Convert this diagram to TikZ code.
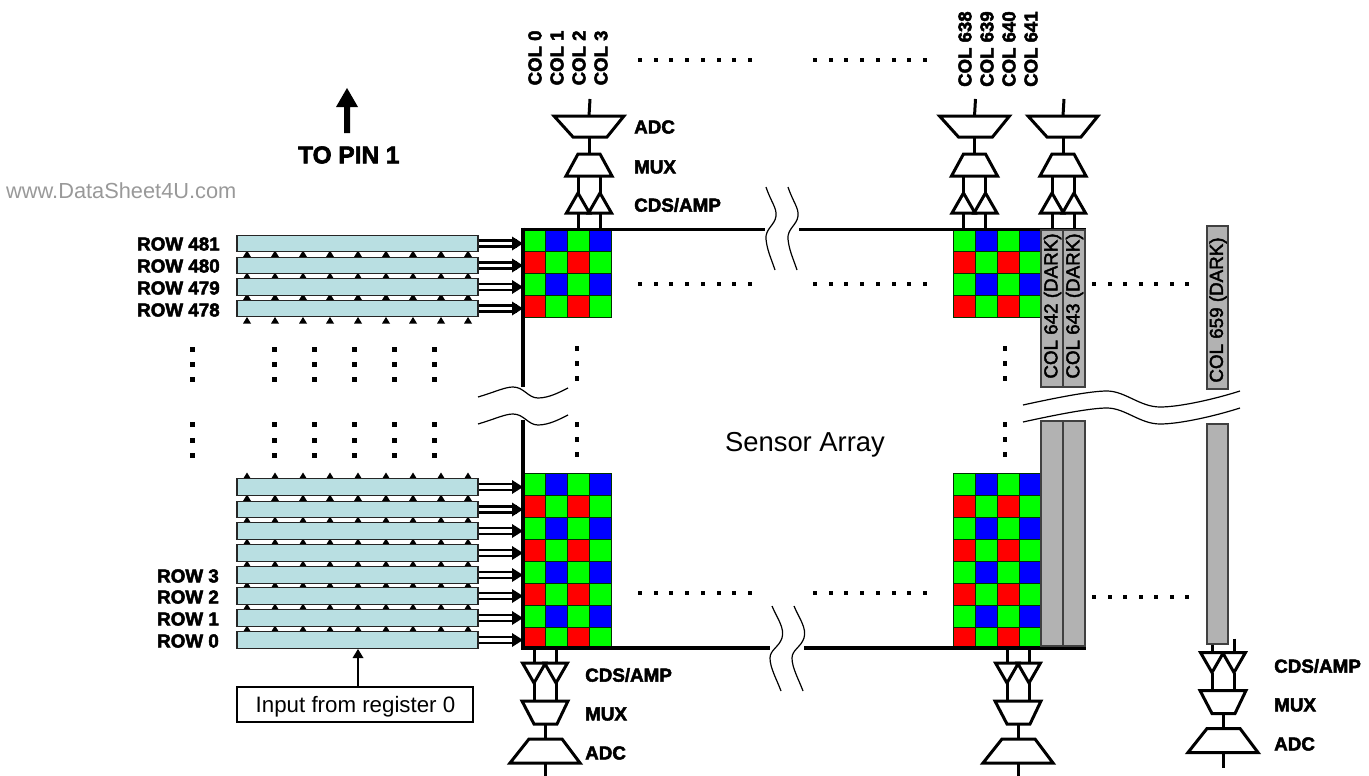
\documentclass[tikz,border=0pt]{standalone}
\usepackage{fontspec}
\setmainfont{Liberation Sans}
\newfontfamily\lb{Liberation Sans Bold}[FakeBold=2.6]
\newfontfamily\lr{Liberation Sans}[FakeBold=2.2]
\tikzset{
  lab/.style={font=\lb\fontsize{18.8}{20}\selectfont,inner sep=0pt,anchor=west,text=black},
  collab/.style={font=\lb\fontsize{18.6}{20}\selectfont,inner sep=0pt,rotate=90,anchor=west},
  darklab/.style={font=\lr\fontsize{18.8}{20}\selectfont,inner sep=0pt,rotate=90,anchor=center},
  cell/.style={draw=black!80!green,line width=1pt},
  bar/.style={draw=black!85,line width=1.4pt,fill=barcol,minimum width=241pt,minimum height=16.5pt,inner sep=0pt},
  darkcol/.style={draw=black!75,line width=1.3pt,fill=darkgrey},
  thick line/.style={line width=3.6pt,black},
  conv/.style={draw=black,line width=3pt,fill=white,line join=miter},
  stem/.style={line width=3pt,black},
  brk/.style={line width=1.2pt,black},
  dotmark/.style={fill=black}
}
\definecolor{barcol}{HTML}{B9DFE2}
\definecolor{darkgrey}{HTML}{B2B2B2}
\newcommand{\gridcells}[3]{% x, y, rows
  \foreach \r in {1,...,#3}{
    \foreach \c in {0,1,2,3}{
      \pgfmathtruncatemacro{\parity}{mod(\r+\c,2)}
      \pgfmathtruncatemacro{\rowodd}{mod(\r,2)}
      \ifnum\rowodd=1
        \ifnum\parity=1 \def\colr{green}\else\def\colr{blue}\fi
      \else
        \ifnum\parity=0 \def\colr{red}\else\def\colr{green}\fi
      \fi
      \filldraw[cell,fill=\colr] ({#1+22*\c},{#2+22*(\r-1)}) rectangle ++(22,22);
    }
  }
}
\newcommand{\upstack}[1]{%
  \begin{scope}[shift={(#1,0)}]
    \draw[stem] (-11,229) -- (-11,211);
    \draw[stem] (11,229) -- (11,211);
    \draw[stem] (-11,193) -- (-11,175);
    \draw[stem] (11,193) -- (11,175);
    \draw[conv] (-22.5,213) -- (-11,193) -- (0.5,213) -- cycle;
    \draw[conv] (-0.5,213) -- (11,193) -- (22.5,213) -- cycle;
    \draw[conv] (-23,176) -- (-11,154) -- (11,154) -- (23,176) -- cycle;
    \draw[stem] (0,137) -- (0,154);
    \draw[conv] (-35,116) -- (35,116) -- (18,137) -- (-16,137) -- cycle;
    \draw[stem] (1,99) -- (0,116);
  \end{scope}
}
\newcommand{\downstack}[2]{%
  \begin{scope}[shift={(#1,#2)}]
    \draw[stem] (-11,649) -- (-11,665);
    \draw[stem] (11,649) -- (11,665);
    \draw[stem] (-11,683) -- (-11,701);
    \draw[stem] (11,683) -- (11,701);
    \draw[conv] (-22.5,663) -- (-11,683) -- (0.5,663) -- cycle;
    \draw[conv] (-0.5,663) -- (11,683) -- (22.5,663) -- cycle;
    \draw[conv] (-23,701) -- (23,701) -- (12,724) -- (-11,724) -- cycle;
    \draw[stem] (0,724) -- (0,739);
    \draw[conv] (-16,739) -- (17,739) -- (35,763) -- (-35,763) -- cycle;
    \draw[stem] (0,763) -- (0,778);
  \end{scope}
}
\begin{document}
\begin{tikzpicture}[x=1pt,y=-1pt]
\useasboundingbox (0,0) rectangle (1369,776);
\clip (0,0) rectangle (1369,776);

% small up-pointing triangles behind the row bars
\foreach \by in {323.5,300,279,257,479,501,523,545,567,588,610,632}{
  \foreach \tx in {247,275,303,330,358,386,413,441,468}{
    \fill (\tx-4,\by) -- (\tx,\by-6.5) -- (\tx+4,\by) -- cycle;
  }
}

% colour grids
\gridcells{523}{229}{4}
\gridcells{523}{473}{8}
\gridcells{953}{229}{4}
\gridcells{953}{473}{8}

% row bars with double arrows
\foreach \nm/\cy in {a/243.5,b/265.5,c/287,d/308.5,e/487,f/509.5,g/531,h/553,i/575,j/596,k/618,l/640}{
  \node[bar] (bar\nm) at (357.5,\cy) {};
  \coordinate (tip\nm) at (523,\cy);
  \draw[line width=2.2pt] ([yshift=3pt]bar\nm.east) -- ++(38,0);
  \draw[line width=2.2pt] ([yshift=-3pt]bar\nm.east) -- ++(38,0);
  \fill (tip\nm) -- ++(-11,-7) -- ++(0,14) -- cycle;
}

% frame
\draw[thick line] (523,227.5) -- (523,387);
\draw[thick line] (523,420) -- (523,649.5);
\draw[line width=3pt] (521,229) -- (765,229);
\draw[line width=3pt] (799,229) -- (1085.5,229);
\draw[thick line] (521,648) -- (770,648);
\draw[thick line] (804,648) -- (1086,648);

% converter stacks
\upstack{589}
\upstack{974.5}
\upstack{1063}
\downstack{545}{0}
\downstack{1018}{0}
\downstack{1223}{-10.5}

% dark columns
\filldraw[darkcol] (1041,230) rectangle (1063,387);
\filldraw[darkcol] (1063,230) rectangle (1085,387);
\filldraw[darkcol] (1041,421) rectangle (1063,646);
\filldraw[darkcol] (1063,421) rectangle (1085,646);
\filldraw[darkcol] (1207,226) rectangle (1228,389);
\filldraw[darkcol] (1207,424) rectangle (1228,644);
\node[darklab] (d642) at (1052.5,306) {COL 642 (DARK)};
\node[darklab] (d643) at (1074.5,306) {COL 643 (DARK)};
\node[darklab] (d659) at (1218,310) {COL 659 (DARK)};

% break curves
\foreach \dx in {0,22}{
  \draw[brk] (766+\dx,187) .. controls (771+\dx,202) and (777+\dx,208) .. (776+\dx,216)
     .. controls (775+\dx,225) and (765+\dx,229) .. (766+\dx,239)
     .. controls (767+\dx,250) and (771+\dx,258) .. (775+\dx,270);
  \draw[brk] (772+\dx,606) .. controls (777+\dx,618) and (785+\dx,628) .. (782+\dx,638)
     .. controls (779+\dx,647) and (770+\dx,650) .. (770+\dx,658)
     .. controls (770+\dx,668) and (777+\dx,680) .. (781+\dx,691);
}
\foreach \dy in {0,27}{
  \draw[brk] (478,397+\dy) .. controls (495,392+\dy) and (505,387+\dy) .. (513,387+\dy)
     .. controls (524,387+\dy) and (528,398+\dy) .. (538,398+\dy)
     .. controls (549,398+\dy) and (560,392+\dy) .. (568,388+\dy);
}
\foreach \dy in {0,17}{
  \draw[brk] (1023,405+\dy) .. controls (1055,398+\dy) and (1090,391+\dy) .. (1107,391+\dy)
     .. controls (1125,391+\dy) and (1140,407+\dy) .. (1160,407+\dy)
     .. controls (1180,407+\dy) and (1215,399+\dy) .. (1240,391+\dy);
}

% dot leaders
\foreach \x in {192,274,314,354,394,434}{
  \foreach \y in {349,364,379,424,440,455}{
    \fill[dotmark] (\x-2.5,\y-2.5) rectangle ++(5,5);
  }
}
\foreach \x in {577,1005}{
  \foreach \y in {348,363,378,424,439,454}{
    \fill[dotmark] (\x-2,\y-2.5) rectangle ++(4,5);
  }
}
\foreach \y in {60,284,593}{
  \foreach \i in {0,...,7}{
    \fill[dotmark] (640+15.7*\i-2,\y-2) rectangle ++(4,4);
    \fill[dotmark] (815+15.7*\i-2,\y-2) rectangle ++(4,4);
  }
}
\foreach \y in {284,597}{
  \foreach \i in {0,...,6}{
    \fill[dotmark] (1094+15.5*\i-2,\y-2) rectangle ++(4,4);
  }
}

% column labels
\foreach \x/\t in {535/COL 0,557/COL 1,579/COL 2,601/COL 3}{
  \node[collab] (t\x) at (\x,85.5) {\t};
}
\foreach \x/\t in {965/COL 638,987/COL 639,1009/COL 640,1031/COL 641}{
  \node[collab] (t\x) at (\x,87) {\t};
}

% row labels
\node[lab] (r481) at (137,244) {ROW 481};
\node[lab] (r480) at (137,266) {ROW 480};
\node[lab] (r479) at (137,288) {ROW 479};
\node[lab] (r478) at (137,310) {ROW 478};
\node[lab] (r3) at (157,576) {ROW 3};
\node[lab] (r2) at (157,597) {ROW 2};
\node[lab] (r1) at (157,619) {ROW 1};
\node[lab] (r0) at (157,641) {ROW 0};

% converter labels
\node[lab] (l1) at (634,127) {ADC};
\node[lab] (l2) at (634,167) {MUX};
\node[lab] (l3) at (634,205) {CDS/AMP};
\node[lab] (l4) at (585,675) {CDS/AMP};
\node[lab] (l5) at (585,714) {MUX};
\node[lab] (l6) at (585,753) {ADC};
\node[lab] (l7) at (1274,666) {CDS/AMP};
\node[lab] (l8) at (1274,705) {MUX};
\node[lab] (l9) at (1274,744) {ADC};

% pin arrow and text
\node[lab,font=\lb\fontsize{24.4}{26}\selectfont] (pin) at (298,155) {TO PIN 1};
\coordinate (pinTop) at (347,88);
\fill (pinTop) -- (358,107) -- (350,107) -- (350,133) -- (344,133) -- (344,107) -- (336,107) -- cycle;
\node[font=\fontsize{21.8}{24}\selectfont,text=black!40,inner sep=0pt,anchor=west] (wm) at (6,191) {www.DataSheet4U.com};

% sensor array
\node[font=\fontsize{27.4}{30}\selectfont,inner sep=0pt] (sa) at (805,445) {Sensor Array};

% register box and arrow
\node[draw=black,line width=1.2pt,minimum width=236pt,minimum height=35pt,inner sep=0pt] (reg) at (355,704.5) {};
\node[font=\fontsize{22.3}{24}\selectfont,inner sep=0pt] (regtext) at (355.5,707) {Input from register 0};
\draw[line width=2.2pt] ([xshift=3pt]reg.north) -- ++(0,-30);
\fill (358,649) -- (363.5,658) -- (352.5,658) -- cycle;
\end{tikzpicture}
\end{document}
